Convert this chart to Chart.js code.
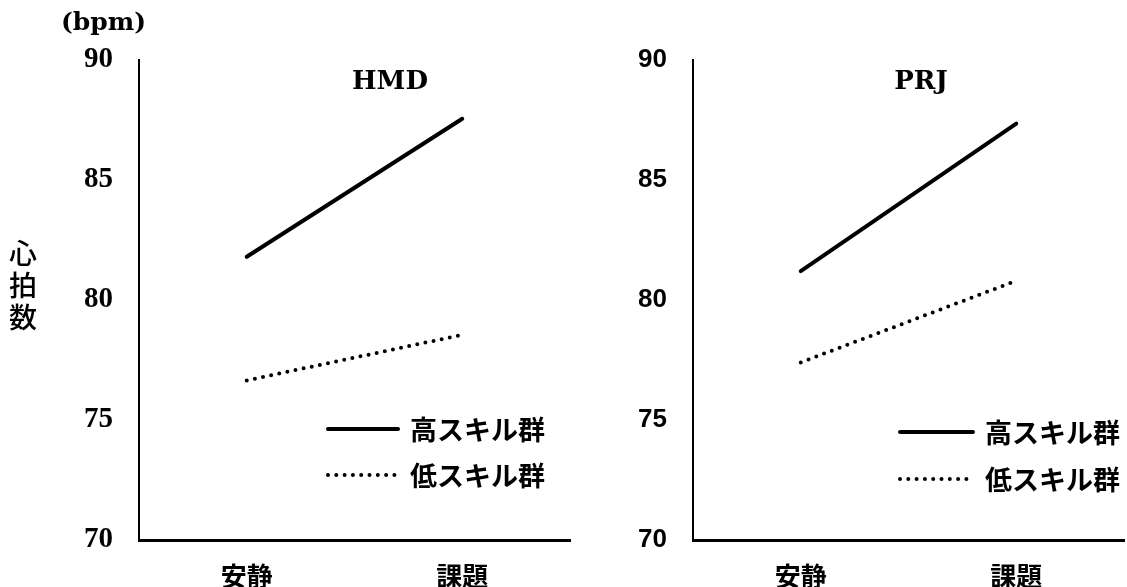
<!DOCTYPE html>
<html>
<head>
<meta charset="utf-8">
<script src="https://cdn.jsdelivr.net/npm/chart.js@4/dist/chart.umd.min.js"></script>
<style>
  body { margin: 0; background: #fff; }
  #wrap { position: relative; width: 1127px; height: 587px; overflow: hidden; }
  canvas { position: absolute; top: 0; }
  .txt { position: absolute; color: #000; }
</style>
</head>
<body>
<div id="wrap">
  <canvas id="chartHMD" width="580" height="587" style="left:0"></canvas>
  <canvas id="chartPRJ" width="547" height="587" style="left:580px"></canvas>
  <div class="txt" style="left:61px; top:7px; font:bold 25px 'DejaVu Serif';">(bpm)</div>
  <div class="txt" style="left:9px; top:236px; font:500 28px 'Noto Sans CJK JP'; line-height:32px;">心<br>拍<br>数</div>
</div>
<script>
// categories and values
const categories = ["安静", "課題"];
const seriesNames = ["高スキル群", "低スキル群"];
const hmdHigh = [81.8, 87.55];
const hmdLow = [76.65, 78.55];
const prjHigh = [81.2, 87.35];
const prjLow = [77.4, 80.8];
const yTicks = [70, 75, 80, 85, 90];

// draws panel title + legend inside the plot
const panelDecor = {
  id: "panelDecor",
  afterDraw(chart, args, opts) {
    const ctx = chart.ctx;
    ctx.save();
    ctx.fillStyle = "#000";
    ctx.strokeStyle = "#000";
    ctx.font = "bold 26px 'DejaVu Serif'";
    ctx.textAlign = "center";
    ctx.textBaseline = "middle";
    ctx.fillText(opts.title, opts.titleX, opts.titleY);

    chart.data.datasets.forEach((ds, i) => {
      const y = opts.legendY[i];
      ctx.beginPath();
      ctx.lineWidth = ds.borderWidth;
      ctx.lineCap = ds.borderCapStyle || "butt";
      ctx.setLineDash(ds.borderDash || []);
      ctx.moveTo(opts.legendX, y);
      ctx.lineTo(opts.legendX + opts.legendLen, y);
      ctx.stroke();
      ctx.setLineDash([]);
      ctx.textAlign = "left";
      ctx.font = "bold 27px 'Noto Sans CJK JP'";
      ctx.fillText(ds.label, opts.legendX + opts.legendLen + 12, y + 1);
    });
    ctx.restore();
  },
};

function makeDatasets(high, low) {
  return [
    {
      label: seriesNames[0],
      data: high,
      borderColor: "#000",
      borderWidth: 4,
      borderCapStyle: "round",
      pointRadius: 0,
      tension: 0,
    },
    {
      label: seriesNames[1],
      data: low,
      borderColor: "#000",
      borderWidth: 4,
      borderCapStyle: "round",
      borderDash: [0, 8.3],
      pointRadius: 0,
      tension: 0,
    },
  ];
}

function makeChart(id, high, low, cfg) {
  return new Chart(document.getElementById(id), {
    type: "line",
    data: { labels: categories, datasets: makeDatasets(high, low) },
    plugins: [panelDecor],
    options: {
      responsive: false,
      animation: false,
      layout: { padding: { top: 60, right: cfg.padRight, bottom: 0, left: 0 } },
      plugins: {
        legend: { display: false },
        tooltip: { enabled: false },
        panelDecor: cfg.decor,
      },
      scales: {
        x: {
          offset: true,
          grid: { display: false, drawTicks: false },
          border: { display: true, color: "#000", width: 3 },
          ticks: {
            color: "#000",
            padding: 21,
            font: { family: "'Noto Sans CJK JP'", size: 26, weight: "bold" },
          },
          afterFit: (scale) => { scale.height = 47; },
        },
        y: {
          min: yTicks[0],
          max: yTicks[yTicks.length - 1],
          afterBuildTicks: (scale) => { scale.ticks = yTicks.map((v) => ({ value: v })); },
          grid: { display: false, drawTicks: false },
          border: { display: true, color: "#000", width: 2 },
          ticks: {
            color: "#000",
            padding: 26,
            font: cfg.tickFont,
          },
          afterFit: (scale) => { scale.width = cfg.yWidth; },
        },
      },
    },
  });
}

makeChart("chartHMD", hmdHigh, hmdLow, {
  padRight: 10,
  yWidth: 139,
  tickFont: { family: "'Liberation Serif'", size: 29, weight: "bold" },
  decor: { title: "HMD", titleX: 390, titleY: 82, legendX: 328, legendLen: 70, legendY: [429, 475] },
});

makeChart("chartPRJ", prjHigh, prjLow, {
  padRight: 3,
  yWidth: 113,
  tickFont: { family: "'Liberation Sans'", size: 26, weight: "bold" },
  decor: { title: "PRJ", titleX: 341, titleY: 82, legendX: 320, legendLen: 73, legendY: [432, 479] },
});
</script>
</body>
</html>
